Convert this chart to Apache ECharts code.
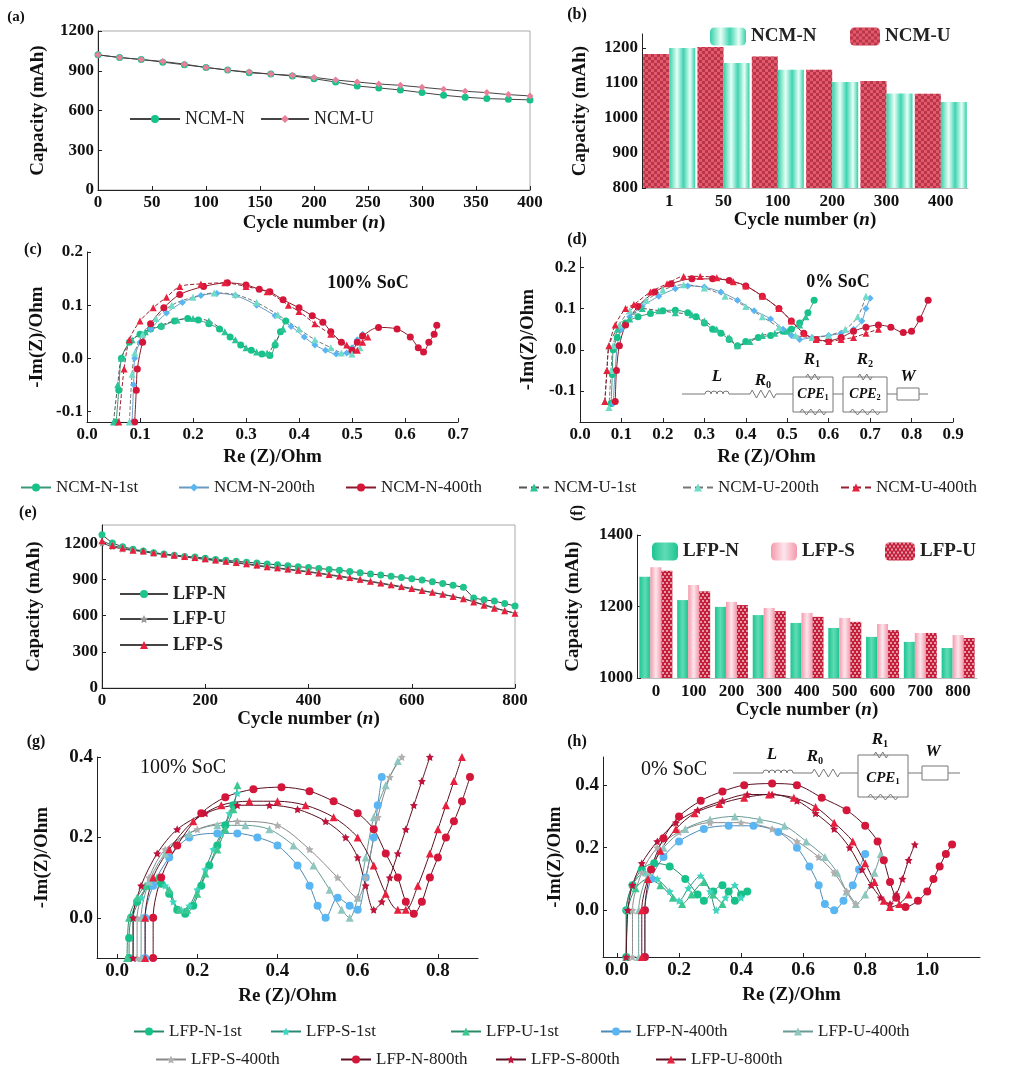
<!DOCTYPE html>
<html>
<head>
<meta charset="utf-8">
<script src="https://cdn.jsdelivr.net/npm/echarts@6/dist/echarts.min.js"></script>
<style>html,body{margin:0;padding:0;background:#fff}#main{width:1011px;height:1080px}</style>
</head>
<body>
<div id="main"></div>
<script>
// ---- (a) NCM capacity vs cycle ----
const cyclesA = [0,20,40,60,80,100,120,140,160,180,200,220,240,260,280,300,320,340,360,380,400];
const ncmN_cap = [1020,1000,985,965,945,925,905,885,875,860,840,815,785,770,755,735,715,700,690,685,680];
const ncmU_cap = [1020,1000,985,970,950,925,905,890,875,865,850,830,815,800,790,775,760,745,735,720,710];

// ---- (b) NCM capacity bars ----
const catsB = ['1','50','100','200','300','400'];
const ncmN_bar = [1200,1157,1138,1103,1070,1046];
const ncmU_bar = [1183,1203,1176,1138,1106,1069];

// ---- (c) NCM EIS 100% SoC ----
const c_N1 = [[0.055,-0.12],[0.06,-0.06],[0.065,0.0],[0.08,0.03],[0.1,0.045],[0.12,0.055],[0.14,0.06],[0.165,0.07],[0.19,0.075],[0.21,0.072],[0.23,0.065],[0.25,0.055],[0.27,0.04],[0.29,0.025],[0.31,0.015],[0.33,0.008],[0.345,0.005],[0.355,0.025],[0.365,0.05],[0.375,0.07]];
const c_N200 = [[0.085,-0.12],[0.088,-0.05],[0.09,0.0],[0.1,0.03],[0.12,0.055],[0.15,0.085],[0.18,0.105],[0.215,0.118],[0.245,0.122],[0.28,0.118],[0.32,0.1],[0.355,0.08],[0.385,0.06],[0.41,0.04],[0.43,0.025],[0.45,0.015],[0.47,0.008],[0.49,0.01],[0.5,0.02],[0.51,0.035],[0.52,0.045]];
const c_N400 = [[0.09,-0.12],[0.093,-0.06],[0.095,-0.02],[0.105,0.03],[0.12,0.065],[0.145,0.095],[0.175,0.12],[0.22,0.135],[0.265,0.142],[0.3,0.138],[0.325,0.13],[0.345,0.125],[0.37,0.11],[0.4,0.095],[0.425,0.08],[0.445,0.068],[0.46,0.05],[0.48,0.03],[0.5,0.015],[0.51,0.03],[0.52,0.042],[0.55,0.058],[0.585,0.055],[0.61,0.04],[0.625,0.02],[0.635,0.012],[0.645,0.03],[0.655,0.045],[0.66,0.062]];
const c_U1 = [[0.05,-0.12],[0.058,-0.05],[0.065,0.0],[0.085,0.035],[0.11,0.05],[0.14,0.062],[0.17,0.072],[0.2,0.075],[0.23,0.07],[0.26,0.05],[0.28,0.035],[0.3,0.02],[0.32,0.012],[0.34,0.01],[0.355,0.03],[0.37,0.055]];
const c_U200 = [[0.08,-0.12],[0.085,-0.03],[0.09,0.01],[0.105,0.045],[0.13,0.075],[0.16,0.1],[0.2,0.115],[0.24,0.123],[0.28,0.12],[0.32,0.105],[0.36,0.082],[0.4,0.055],[0.43,0.035],[0.46,0.02],[0.48,0.01],[0.5,0.008],[0.515,0.02]];
const c_U400 = [[0.06,-0.12],[0.07,-0.02],[0.08,0.035],[0.1,0.07],[0.125,0.095],[0.15,0.115],[0.175,0.135],[0.215,0.14],[0.26,0.142],[0.3,0.135],[0.34,0.125],[0.38,0.1],[0.4,0.088],[0.43,0.065],[0.46,0.045],[0.49,0.025],[0.51,0.015],[0.52,0.03],[0.53,0.04]];

// ---- (d) NCM EIS 0% SoC ----
const d_N1 = [[0.075,-0.13],[0.078,-0.06],[0.08,0.0],[0.09,0.03],[0.11,0.065],[0.14,0.08],[0.17,0.088],[0.2,0.095],[0.23,0.096],[0.26,0.09],[0.28,0.08],[0.3,0.065],[0.32,0.05],[0.34,0.04],[0.36,0.025],[0.38,0.01],[0.4,0.02],[0.43,0.03],[0.46,0.035],[0.49,0.045],[0.51,0.05],[0.53,0.065],[0.55,0.09],[0.565,0.12]];
const d_N200 = [[0.08,-0.13],[0.085,-0.05],[0.09,0.01],[0.1,0.05],[0.12,0.08],[0.15,0.105],[0.19,0.13],[0.23,0.148],[0.26,0.155],[0.3,0.152],[0.34,0.14],[0.38,0.12],[0.42,0.095],[0.46,0.075],[0.49,0.05],[0.51,0.035],[0.53,0.025],[0.56,0.03],[0.6,0.035],[0.63,0.04],[0.66,0.05],[0.68,0.07],[0.69,0.1],[0.7,0.125]];
const d_N400 = [[0.085,-0.125],[0.088,-0.05],[0.095,0.01],[0.11,0.06],[0.14,0.105],[0.18,0.14],[0.22,0.16],[0.27,0.172],[0.32,0.172],[0.36,0.168],[0.4,0.155],[0.44,0.13],[0.48,0.1],[0.51,0.07],[0.54,0.04],[0.57,0.025],[0.6,0.022],[0.63,0.03],[0.66,0.045],[0.69,0.055],[0.72,0.06],[0.75,0.055],[0.78,0.042],[0.8,0.045],[0.82,0.075],[0.84,0.12]];
const d_U1 = [[0.06,-0.125],[0.065,-0.05],[0.07,0.01],[0.09,0.05],[0.12,0.075],[0.15,0.1],[0.19,0.095],[0.23,0.09],[0.27,0.085],[0.3,0.07],[0.33,0.05],[0.36,0.03],[0.38,0.01],[0.41,0.02],[0.44,0.035],[0.47,0.04],[0.5,0.045],[0.53,0.06],[0.545,0.08]];
const d_U200 = [[0.07,-0.14],[0.075,-0.05],[0.08,0.01],[0.095,0.06],[0.12,0.095],[0.16,0.12],[0.2,0.145],[0.25,0.158],[0.3,0.15],[0.35,0.13],[0.4,0.105],[0.44,0.08],[0.48,0.055],[0.52,0.035],[0.56,0.03],[0.6,0.035],[0.64,0.05],[0.67,0.08],[0.69,0.13]];
const d_U400 = [[0.06,-0.125],[0.065,-0.05],[0.07,0.01],[0.085,0.06],[0.11,0.1],[0.13,0.11],[0.17,0.14],[0.21,0.16],[0.25,0.178],[0.29,0.178],[0.33,0.175],[0.37,0.165],[0.4,0.155],[0.44,0.13],[0.48,0.1],[0.51,0.07],[0.54,0.04],[0.57,0.025],[0.6,0.02],[0.63,0.025],[0.66,0.03],[0.69,0.04],[0.72,0.05]];

// ---- (e) LFP capacity vs cycle ----
const cyclesE = [0,20,40,60,80,100,120,140,160,180,200,220,240,260,280,300,320,340,360,380,400,420,440,460,480,500,520,540,560,580,600,620,640,660,680,700,720,740,760,780,800];
const lfpN_cap = [1270,1200,1170,1150,1135,1120,1110,1100,1090,1085,1075,1065,1058,1050,1042,1035,1028,1020,1012,1005,998,990,982,975,965,955,945,935,925,915,905,895,880,865,850,835,745,730,720,700,680];
const lfpU_cap = [1200,1170,1150,1140,1130,1115,1105,1095,1085,1075,1065,1055,1045,1035,1025,1012,1000,990,980,970,960,948,935,922,910,895,880,865,850,835,820,805,790,775,758,740,715,690,665,640,620];
const lfpS_cap = [1220,1180,1160,1140,1135,1120,1110,1100,1090,1080,1070,1060,1050,1040,1030,1018,1005,995,985,975,965,952,940,928,915,900,885,870,855,840,825,808,792,776,758,740,712,686,660,640,620];

// ---- (f) LFP capacity bars ----
const catsF = ['0','100','200','300','400','500','600','700','800'];
const lfpN_bar = [1283,1218,1199,1176,1154,1140,1115,1101,1084];
const lfpS_bar = [1310,1260,1213,1196,1182,1168,1151,1126,1120];
const lfpU_bar = [1300,1243,1204,1187,1171,1157,1134,1126,1112];

// ---- (g) LFP EIS 100% SoC ----
const g_N1 = [[0.03,-0.1],[0.03,-0.05],[0.035,0],[0.05,0.04],[0.08,0.08],[0.11,0.085],[0.13,0.06],[0.15,0.02],[0.17,0.01],[0.19,0.03],[0.21,0.08],[0.23,0.13],[0.25,0.18],[0.27,0.23],[0.29,0.28]];
const g_S1 = [[0.04,-0.1],[0.04,0],[0.06,0.05],[0.09,0.09],[0.12,0.08],[0.14,0.04],[0.16,0.02],[0.18,0.03],[0.2,0.07],[0.22,0.12],[0.24,0.17],[0.26,0.21],[0.28,0.26],[0.3,0.31]];
const g_U1 = [[0.025,-0.1],[0.03,0],[0.05,0.05],[0.07,0.08],[0.1,0.1],[0.13,0.07],[0.155,0.02],[0.175,0.02],[0.2,0.06],[0.22,0.11],[0.25,0.17],[0.27,0.22],[0.29,0.27],[0.3,0.33]];
const g_N400 = [[0.07,-0.1],[0.07,0],[0.09,0.08],[0.13,0.15],[0.18,0.2],[0.25,0.21],[0.3,0.21],[0.35,0.2],[0.4,0.18],[0.45,0.13],[0.48,0.08],[0.5,0.03],[0.52,0.0],[0.55,0.05],[0.58,0.03],[0.6,0.02],[0.62,0.1],[0.64,0.2],[0.65,0.28],[0.66,0.35]];
const g_U400 = [[0.06,-0.1],[0.06,0],[0.08,0.09],[0.12,0.16],[0.18,0.21],[0.25,0.23],[0.32,0.23],[0.38,0.22],[0.44,0.18],[0.49,0.13],[0.53,0.07],[0.56,0.02],[0.58,0.0],[0.6,0.05],[0.62,0.15],[0.64,0.25],[0.67,0.33],[0.7,0.39]];
const g_S400 = [[0.05,-0.1],[0.05,0],[0.08,0.1],[0.12,0.17],[0.2,0.22],[0.3,0.24],[0.4,0.23],[0.48,0.17],[0.55,0.1],[0.6,0.05],[0.62,0.1],[0.65,0.25],[0.68,0.35],[0.71,0.4]];
const g_N800 = [[0.09,-0.1],[0.09,0],[0.11,0.1],[0.15,0.18],[0.21,0.26],[0.27,0.3],[0.34,0.32],[0.41,0.325],[0.48,0.315],[0.54,0.29],[0.6,0.26],[0.64,0.22],[0.67,0.16],[0.7,0.1],[0.72,0.04],[0.74,0.01],[0.76,0.04],[0.78,0.1],[0.8,0.15],[0.82,0.2],[0.84,0.24],[0.86,0.29],[0.88,0.35]];
const g_S800 = [[0.04,-0.1],[0.04,0],[0.06,0.08],[0.1,0.16],[0.15,0.22],[0.22,0.26],[0.3,0.28],[0.38,0.28],[0.45,0.27],[0.52,0.24],[0.57,0.2],[0.6,0.15],[0.62,0.08],[0.64,0.02],[0.66,0.04],[0.68,0.1],[0.7,0.16],[0.72,0.22],[0.74,0.28],[0.76,0.34],[0.78,0.4]];
const g_U800 = [[0.07,-0.1],[0.07,0],[0.09,0.1],[0.13,0.17],[0.19,0.24],[0.26,0.28],[0.33,0.29],[0.4,0.29],[0.47,0.28],[0.54,0.25],[0.6,0.2],[0.64,0.13],[0.67,0.06],[0.7,0.02],[0.72,0.02],[0.75,0.08],[0.78,0.16],[0.8,0.22],[0.82,0.28],[0.84,0.34],[0.86,0.4]];

// ---- (h) LFP EIS 0% SoC ----
const h_N1 = [[0.03,-0.15],[0.03,0],[0.05,0.08],[0.08,0.13],[0.12,0.15],[0.17,0.14],[0.22,0.1],[0.26,0.05],[0.28,0.03],[0.31,0.06],[0.34,0.08],[0.36,0.06],[0.38,0.03],[0.4,0.05],[0.42,0.06]];
const h_S1 = [[0.03,-0.15],[0.03,0],[0.05,0.08],[0.09,0.12],[0.13,0.1],[0.17,0.06],[0.2,0.03],[0.23,0.07],[0.27,0.11],[0.3,0.06],[0.32,0.0],[0.35,0.04],[0.38,0.08],[0.4,0.04]];
const h_U1 = [[0.03,-0.15],[0.035,0],[0.06,0.07],[0.1,0.1],[0.14,0.08],[0.18,0.04],[0.21,0.02],[0.24,0.05],[0.28,0.09],[0.31,0.05],[0.34,0.02]];
const h_N400 = [[0.09,-0.15],[0.09,0],[0.11,0.1],[0.15,0.17],[0.2,0.22],[0.28,0.26],[0.36,0.27],[0.44,0.27],[0.52,0.25],[0.58,0.2],[0.62,0.14],[0.65,0.08],[0.67,0.02],[0.7,0.0],[0.73,0.03],[0.76,0.08],[0.78,0.13],[0.8,0.18]];
const h_U400 = [[0.07,-0.15],[0.07,0],[0.1,0.12],[0.15,0.2],[0.22,0.26],[0.3,0.29],[0.38,0.3],[0.46,0.29],[0.54,0.27],[0.61,0.22],[0.67,0.17],[0.71,0.12],[0.74,0.06],[0.77,0.02],[0.8,0.05],[0.83,0.12],[0.85,0.18]];
const h_S400 = [[0.05,-0.15],[0.05,0],[0.08,0.12],[0.13,0.2],[0.2,0.25],[0.3,0.28],[0.4,0.28],[0.5,0.26],[0.58,0.22],[0.65,0.17],[0.7,0.12],[0.74,0.06],[0.77,0.02]];
const h_N800 = [[0.09,-0.15],[0.09,0],[0.11,0.13],[0.15,0.23],[0.2,0.3],[0.27,0.35],[0.34,0.38],[0.41,0.4],[0.5,0.405],[0.58,0.4],[0.66,0.36],[0.74,0.32],[0.8,0.27],[0.84,0.22],[0.86,0.16],[0.88,0.09],[0.9,0.04],[0.93,0.01],[0.97,0.03],[1.0,0.06],[1.02,0.1],[1.04,0.14],[1.06,0.18],[1.08,0.21]];
const h_S800 = [[0.03,-0.15],[0.035,0],[0.05,0.08],[0.08,0.15],[0.13,0.22],[0.19,0.28],[0.26,0.32],[0.34,0.35],[0.42,0.37],[0.5,0.37],[0.58,0.35],[0.64,0.31],[0.7,0.26],[0.75,0.2],[0.79,0.13],[0.82,0.08],[0.85,0.04],[0.88,0.02],[0.9,0.05],[0.92,0.1],[0.94,0.16],[0.96,0.21]];
const h_U800 = [[0.08,-0.15],[0.08,0],[0.1,0.1],[0.14,0.19],[0.19,0.26],[0.25,0.31],[0.33,0.34],[0.41,0.36],[0.49,0.37],[0.57,0.36],[0.64,0.33],[0.7,0.28],[0.76,0.22],[0.8,0.15],[0.83,0.09],[0.86,0.03],[0.88,0.01],[0.91,0.02],[0.94,0.05]];

const FONT = '"Liberation Serif","DejaVu Serif",serif';
const STAR = 'path://M0,-10L2.9,-4L9.5,-3.1L4.8,1.5L5.9,8.1L0,5L-5.9,8.1L-4.8,1.5L-9.5,-3.1L-2.9,-4Z';
const fmt1 = v => v.toFixed(1);
const fmt0 = v => String(Math.round(v));
const nameStyle = (size) => ({fontFamily: FONT, fontSize: size, fontWeight: 'bold', color: '#111',
  rich: {i: {fontFamily: FONT, fontSize: size, fontWeight: 'bold', fontStyle: 'italic', color: '#111'}}});

// value axis builder
function vAxis(gi, min, max, ticks, name, gap, fmt, fs) {
  return {
    type: 'value', gridIndex: gi, min: min, max: max,
    name: name, nameLocation: 'middle', nameGap: gap, nameTextStyle: nameStyle(19),
    splitLine: {show: false},
    axisLine: {show: true, onZero: false, lineStyle: {color: '#222', width: 1}},
    axisTick: {show: true, inside: true, length: 4, customValues: ticks, lineStyle: {color: '#222'}},
    axisLabel: {customValues: ticks, formatter: fmt, color: '#111', fontFamily: FONT,
      fontSize: fs || 16, fontWeight: 'bold', margin: 4}
  };
}
function cAxis(gi, cats, name, gap) {
  return {
    type: 'category', gridIndex: gi, data: cats,
    name: name, nameLocation: 'middle', nameGap: gap, nameTextStyle: nameStyle(19),
    axisLine: {show: true, lineStyle: {color: '#bbb'}},
    axisTick: {show: false},
    axisLabel: {color: '#111', fontFamily: FONT, fontSize: 17, fontWeight: 'bold', margin: 5, interval: 0}
  };
}

function cap(name, gi, xs, ys, color, symbol) {
  return {name: name, type: 'line', xAxisIndex: gi, yAxisIndex: gi,
    data: xs.map((x, i) => [x, ys[i]]), symbol: symbol, symbolSize: 7,
    itemStyle: {color: color}, lineStyle: {color: '#444', width: 1}};
}
function eis(name, gi, data, color, symbol, lineColor, dashed, size) {
  return {name: name, type: 'line', xAxisIndex: gi, yAxisIndex: gi, data: data,
    symbol: symbol, symbolSize: size || 7, smooth: 0.3,
    itemStyle: {color: color},
    lineStyle: {color: lineColor, width: 1, type: dashed ? 'dashed' : 'solid'}};
}
function legendItem(name, left, top, opts) {
  return Object.assign({
    data: [name], left: left, top: top, itemWidth: 30, itemHeight: 10, itemGap: 5,
    formatter: n => n.trim(), selectedMode: false,
    textStyle: {fontFamily: FONT, fontSize: 17, color: '#222'}
  }, opts || {});
}

// colors
const cGreen = '#17c28a', cGreenT = '#2cc496', cTeal = '#6fdcc8', cBlue = '#5ab6f2';
const cRed = '#d3163a', cRedT = '#e8203e', cGreyTeal = '#8fc7c0', cGrey = '#b0b0b0', cStarR = '#c0143c';

const checker = {symbol: 'rect', symbolSize: 1, color: 'rgba(130,10,30,0.45)',
  dashArrayX: [[3, 3], [0, 3, 3, 0]], dashArrayY: [3, 0]};
const checkerW = {symbol: 'rect', symbolSize: 1, color: 'rgba(255,255,255,0.55)',
  dashArrayX: [[2, 2], [0, 2, 2, 0]], dashArrayY: [2, 1]};
const gradN = new echarts.graphic.LinearGradient(0, 0, 1, 0, [
  {offset: 0, color: '#35d0a8'}, {offset: 0.3, color: '#e6fff7'}, {offset: 0.55, color: '#3fd4b0'},
  {offset: 0.8, color: '#e6fff7'}, {offset: 1, color: '#35d0a8'}]);
const gradLN = new echarts.graphic.LinearGradient(0, 0, 1, 0, [
  {offset: 0, color: '#1ec492'}, {offset: 0.5, color: '#5fdcb4'}, {offset: 1, color: '#1ec492'}]);
const gradLS = new echarts.graphic.LinearGradient(0, 0, 1, 0, [
  {offset: 0, color: '#f49aac'}, {offset: 0.5, color: '#fde6ec'}, {offset: 1, color: '#f49aac'}]);

// circuit drawing helpers (decoration only)
const wire = {stroke: '#777', lineWidth: 1, fill: null};
function ln(x1, y1, x2, y2) { return {type: 'line', shape: {x1, y1, x2, y2}, style: wire, silent: true}; }
function zig(x0, x1, y, amp, n) {
  const pts = [[x0, y]]; const step = (x1 - x0) / n;
  for (let k = 0; k < n; k++) pts.push([x0 + step * (k + 0.5), y + (k % 2 ? amp : -amp)]);
  pts.push([x1, y]);
  return {type: 'polyline', shape: {points: pts}, style: wire, silent: true};
}
function coil(x0, y, r, n) {
  const out = [];
  for (let k = 0; k < n; k++) out.push({type: 'arc', shape: {cx: x0 + r + 2 * r * k, cy: y, r: r,
    startAngle: Math.PI, endAngle: 2 * Math.PI, clockwise: true}, style: wire, silent: true});
  return out;
}
function box(x, y, w, h) { return {type: 'rect', shape: {x, y, width: w, height: h}, style: wire, silent: true}; }
function lbl(txt, x, y, size, weight, extra) {
  return Object.assign({type: 'text', x: x, y: y, silent: true, style: {text: txt, fill: '#111',
    font: (weight || 'bold') + ' ' + size + 'px ' + FONT, align: 'center', verticalAlign: 'middle',
    rich: {i: {fontFamily: FONT, fontSize: size, fontStyle: 'italic', fontWeight: 'bold', fill: '#111'},
           s: {fontFamily: FONT, fontSize: size * 0.6, fontWeight: 'bold', fill: '#111', padding: [size * 0.5, 0, 0, 0]}}}}, extra || {});
}

const graphic = [
  lbl('(a)', 16, 17, 15), lbl('(b)', 577, 15, 16), lbl('(c)', 33, 250, 16), lbl('(d)', 577, 240, 16),
  lbl('(e)', 28, 513, 16), lbl('(f)', 578, 513, 16, 'bold', {rotation: Math.PI / 2}),
  lbl('(g)', 36, 742, 16), lbl('(h)', 577, 742, 16),
  lbl('100% SoC', 368, 283, 18), lbl('0% SoC', 838, 282, 18),
  lbl('100% SoC', 183, 768, 20, 'normal'), lbl('0% SoC', 674, 770, 20, 'normal'),
  // (d) equivalent circuit
  ln(682, 394, 705, 394), ...coil(705, 394, 3, 4), ln(729, 394, 750, 394), zig(750, 776, 394, 4, 6),
  ln(776, 394, 793, 394), box(793, 377, 40, 35), zig(806, 820, 377, 3, 4), zig(800, 826, 412, 3, 6),
  lbl('{i|CPE}{s|1}', 813, 394, 14), lbl('{i|R}{s|1}', 812, 360, 17),
  ln(833, 394, 843, 394), box(843, 377, 44, 35), zig(858, 872, 377, 3, 4), zig(850, 880, 412, 3, 6),
  lbl('{i|CPE}{s|2}', 865, 394, 14), lbl('{i|R}{s|2}', 865, 360, 17),
  ln(887, 394, 897, 394), box(897, 388, 22, 12), ln(919, 394, 928, 394),
  lbl('{i|L}', 717, 377, 17), lbl('{i|R}{s|0}', 763, 381, 17), lbl('{i|W}', 908, 377, 17),
  // (h) equivalent circuit
  ln(733, 773, 763, 773), ...coil(763, 773, 3, 5), ln(793, 773, 812, 773), zig(812, 840, 773, 4, 6),
  ln(840, 773, 858, 773), box(858, 755, 50, 42), zig(874, 888, 755, 3, 4), zig(868, 898, 797, 3, 6),
  lbl('{i|CPE}{s|1}', 883, 778, 15), lbl('{i|R}{s|1}', 880, 740, 17),
  ln(908, 773, 922, 773), box(922, 766, 26, 14), ln(948, 773, 960, 773),
  lbl('{i|L}', 772, 755, 17), lbl('{i|R}{s|0}', 815, 757, 17), lbl('{i|W}', 933, 752, 17)
];

const option = {
  backgroundColor: '#fff',
  animation: false,
  textStyle: {fontFamily: FONT},
  grid: [
    {left: 98, top: 31, width: 432, height: 159, show: true, borderColor: '#aaa', borderWidth: 1},
    {left: 642, top: 34, width: 326, height: 154},
    {left: 87, top: 252, width: 371, height: 170},
    {left: 580, top: 257, width: 373, height: 165},
    {left: 102, top: 525, width: 413, height: 163, show: true, borderColor: '#aaa', borderWidth: 1},
    {left: 637, top: 535, width: 340, height: 143},
    {left: 97, top: 757, width: 381, height: 201},
    {left: 603, top: 757, width: 377, height: 200}
  ],
  xAxis: [
    vAxis(0, 0, 400, [0,50,100,150,200,250,300,350,400], 'Cycle number ({i|n})', 24, fmt0, 17),
    cAxis(1, catsB, 'Cycle number ({i|n})', 22),
    vAxis(2, 0, 0.7, [0,0.1,0.2,0.3,0.4,0.5,0.6,0.7], 'Re (Z)/Ohm', 26, fmt1, 17),
    vAxis(3, 0, 0.9, [0,0.1,0.2,0.3,0.4,0.5,0.6,0.7,0.8,0.9], 'Re (Z)/Ohm', 26, fmt1, 17),
    vAxis(4, 0, 800, [0,200,400,600,800], 'Cycle number ({i|n})', 19, fmt0, 17),
    cAxis(5, catsF, 'Cycle number ({i|n})', 20),
    vAxis(6, -0.05, 0.9, [0,0.2,0.4,0.6,0.8], 'Re (Z)/Ohm', 29, fmt1, 19),
    vAxis(7, -0.045, 1.17, [0,0.2,0.4,0.6,0.8,1.0], 'Re (Z)/Ohm', 29, fmt1, 19)
  ],
  yAxis: [
    vAxis(0, 0, 1200, [0,300,600,900,1200], 'Capacity (mAh)', 50, fmt0, 17),
    vAxis(1, 800, 1240, [800,900,1000,1100,1200], 'Capacity (mAh)', 52, fmt0, 17),
    vAxis(2, -0.12, 0.2, [-0.1,0,0.1,0.2], '-Im(Z)/Ohm', 40, fmt1, 17),
    vAxis(3, -0.175, 0.225, [-0.1,0,0.1,0.2], '-Im(Z)/Ohm', 42, fmt1, 17),
    vAxis(4, 0, 1350, [0,300,600,900,1200], 'Capacity (mAh)', 58, fmt0, 17),
    vAxis(5, 1000, 1400, [1000,1200,1400], 'Capacity (mAh)', 54, fmt0, 17),
    vAxis(6, -0.1, 0.4, [0,0.2,0.4], '-Im(Z)/Ohm', 45, fmt1, 19),
    vAxis(7, -0.15, 0.49, [0,0.2,0.4], '-Im(Z)/Ohm', 38, fmt1, 19)
  ],
  legend: [
    legendItem('NCM-N', 124, 105, {itemWidth: 50, textStyle: {fontFamily: FONT, fontSize: 18, color: '#222'}}),
    legendItem('NCM-U', 255, 105, {itemWidth: 48, textStyle: {fontFamily: FONT, fontSize: 18, color: '#222'}}),
    legendItem('NCM-N ', 705, 22, {itemWidth: 36, itemHeight: 18, itemGap: 10, textStyle: {fontFamily: FONT, fontSize: 19, fontWeight: 'bold', color: '#222'}}),
    legendItem('NCM-U ', 845, 22, {itemWidth: 30, itemHeight: 18, itemGap: 12, textStyle: {fontFamily: FONT, fontSize: 19, fontWeight: 'bold', color: '#222'}}),
    legendItem('NCM-N-1st', 15, 474), legendItem('NCM-N-200th', 173, 474), legendItem('NCM-N-400th', 340, 474),
    legendItem('NCM-U-1st', 513, 474), legendItem('NCM-U-200th', 677, 474), legendItem('NCM-U-400th', 835, 474),
    legendItem('LFP-N', 114, 580, {itemWidth: 48, textStyle: {fontFamily: FONT, fontSize: 18, fontWeight: 'bold', color: '#222'}}),
    legendItem('LFP-U', 114, 605, {itemWidth: 48, textStyle: {fontFamily: FONT, fontSize: 18, fontWeight: 'bold', color: '#222'}}),
    legendItem('LFP-S', 114, 631, {itemWidth: 48, textStyle: {fontFamily: FONT, fontSize: 18, fontWeight: 'bold', color: '#222'}}),
    legendItem('LFP-N ', 647, 537, {itemWidth: 26, itemHeight: 18, itemGap: 14, textStyle: {fontFamily: FONT, fontSize: 19, fontWeight: 'bold', color: '#222'}}),
    legendItem('LFP-S ', 766, 537, {itemWidth: 26, itemHeight: 18, itemGap: 14, textStyle: {fontFamily: FONT, fontSize: 19, fontWeight: 'bold', color: '#222'}}),
    legendItem('LFP-U ', 880, 537, {itemWidth: 30, itemHeight: 18, itemGap: 12, textStyle: {fontFamily: FONT, fontSize: 19, fontWeight: 'bold', color: '#222'}}),
    legendItem('LFP-N-1st', 128, 1018), legendItem('LFP-S-1st', 265, 1018), legendItem('LFP-U-1st', 445, 1018),
    legendItem('LFP-N-400th', 595, 1018), legendItem('LFP-U-400th', 777, 1018),
    legendItem('LFP-S-400th', 150, 1046), legendItem('LFP-N-800th', 335, 1046),
    legendItem('LFP-S-800th', 490, 1046), legendItem('LFP-U-800th', 650, 1046)
  ],
  series: [
    cap('NCM-N', 0, cyclesA, ncmN_cap, cGreen, 'circle'),
    cap('NCM-U', 0, cyclesA, ncmU_cap, '#e8809a', 'diamond'),
    {name: 'NCM-U ', type: 'bar', xAxisIndex: 1, yAxisIndex: 1, data: ncmU_bar, barWidth: 26, barGap: '0%',
      itemStyle: {color: '#e45a6c', decal: checker}},
    {name: 'NCM-N ', type: 'bar', xAxisIndex: 1, yAxisIndex: 1, data: ncmN_bar, barWidth: 26, barGap: '0%',
      itemStyle: {color: gradN}},
    eis('NCM-N-1st', 2, c_N1, cGreen, 'circle', '#3a9a78'),
    eis('NCM-N-200th', 2, c_N200, cBlue, 'diamond', '#6a9ac0'),
    eis('NCM-N-400th', 2, c_N400, cRed, 'circle', '#8a1a2a'),
    eis('NCM-U-1st', 2, c_U1, cGreenT, 'triangle', '#555', true),
    eis('NCM-U-200th', 2, c_U200, cTeal, 'triangle', '#777', true),
    eis('NCM-U-400th', 2, c_U400, cRedT, 'triangle', '#9a2030', true),
    eis('NCM-N-1st', 3, d_N1, cGreen, 'circle', '#3a9a78'),
    eis('NCM-N-200th', 3, d_N200, cBlue, 'diamond', '#6a9ac0'),
    eis('NCM-N-400th', 3, d_N400, cRed, 'circle', '#8a1a2a'),
    eis('NCM-U-1st', 3, d_U1, cGreenT, 'triangle', '#555', true),
    eis('NCM-U-200th', 3, d_U200, cTeal, 'triangle', '#777', true),
    eis('NCM-U-400th', 3, d_U400, cRedT, 'triangle', '#9a2030', true),
    cap('LFP-N', 4, cyclesE, lfpN_cap, '#1fc48d', 'circle'),
    cap('LFP-U', 4, cyclesE, lfpU_cap, '#999', STAR),
    cap('LFP-S', 4, cyclesE, lfpS_cap, cRedT, 'triangle'),
    {name: 'LFP-N ', type: 'bar', xAxisIndex: 5, yAxisIndex: 5, data: lfpN_bar, barWidth: 11, barGap: '0%',
      itemStyle: {color: gradLN}},
    {name: 'LFP-S ', type: 'bar', xAxisIndex: 5, yAxisIndex: 5, data: lfpS_bar, barWidth: 11, barGap: '0%',
      itemStyle: {color: gradLS}},
    {name: 'LFP-U ', type: 'bar', xAxisIndex: 5, yAxisIndex: 5, data: lfpU_bar, barWidth: 11, barGap: '0%',
      itemStyle: {color: '#c41e3a', decal: checkerW}},
    eis('LFP-N-1st', 6, g_N1, cGreen, 'circle', '#2a8a68', false, 8),
    eis('LFP-S-1st', 6, g_S1, '#3fd6c0', STAR, '#2a8a78', false, 8),
    eis('LFP-U-1st', 6, g_U1, '#3cc890', 'triangle', '#2a8a68', false, 8),
    eis('LFP-N-400th', 6, g_N400, cBlue, 'circle', '#4a8ab8', false, 8),
    eis('LFP-U-400th', 6, g_U400, cGreyTeal, 'triangle', '#6a9a94', false, 8),
    eis('LFP-S-400th', 6, g_S400, cGrey, STAR, '#888', false, 8),
    eis('LFP-N-800th', 6, g_N800, cRed, 'circle', '#5a1020', false, 8),
    eis('LFP-S-800th', 6, g_S800, cStarR, STAR, '#5a1020', false, 8),
    eis('LFP-U-800th', 6, g_U800, cRedT, 'triangle', '#5a1020', false, 8),
    eis('LFP-N-1st', 7, h_N1, cGreen, 'circle', '#2a8a68', false, 8),
    eis('LFP-S-1st', 7, h_S1, '#3fd6c0', STAR, '#2a8a78', false, 8),
    eis('LFP-U-1st', 7, h_U1, '#3cc890', 'triangle', '#2a8a68', false, 8),
    eis('LFP-N-400th', 7, h_N400, cBlue, 'circle', '#4a8ab8', false, 8),
    eis('LFP-U-400th', 7, h_U400, cGreyTeal, 'triangle', '#6a9a94', false, 8),
    eis('LFP-S-400th', 7, h_S400, cGrey, STAR, '#888', false, 8),
    eis('LFP-N-800th', 7, h_N800, cRed, 'circle', '#5a1020', false, 8),
    eis('LFP-S-800th', 7, h_S800, cStarR, STAR, '#5a1020', false, 8),
    eis('LFP-U-800th', 7, h_U800, cRedT, 'triangle', '#5a1020', false, 8)
  ],
  graphic: graphic
};

const chart = echarts.init(document.getElementById('main'));
chart.setOption(option);
</script>
</body>
</html>
